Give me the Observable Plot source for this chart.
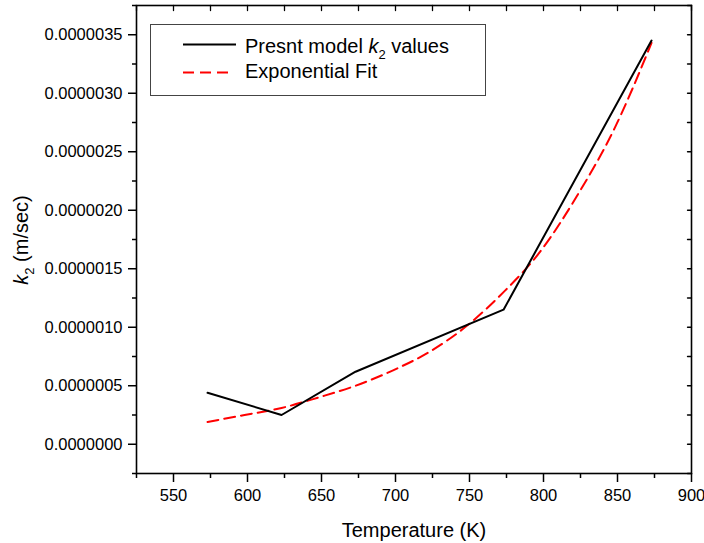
<!DOCTYPE html>
<html>
<head>
<meta charset="utf-8">
<script src="https://cdn.jsdelivr.net/npm/d3@7"></script>
<script src="https://cdn.jsdelivr.net/npm/@observablehq/plot@0.6"></script>
<style>
  html, body { margin: 0; padding: 0; background: #fff; }
  #chart { width: 704px; height: 543px; }
</style>
</head>
<body>
<div id="chart"></div>
<script>
// Present model k2 values (black solid line)
const modelT  = [573, 623, 673, 773, 873];
const modelK2 = [0.44e-6, 0.25e-6, 0.62e-6, 1.15e-6, 3.45e-6];

// Exponential fit (red dashed)
const fitT  = [573, 598, 623, 648, 673, 698, 723, 748, 773, 798, 823, 848, 873];
const fitK2 = [0.19e-6, 0.25e-6, 0.31e-6, 0.40e-6, 0.50e-6, 0.63e-6, 0.79e-6, 1.01e-6, 1.30e-6, 1.65e-6, 2.13e-6, 2.70e-6, 3.43e-6];

// Axis ticks
const xMajorTicks = [550, 600, 650, 700, 750, 800, 850, 900];
const xMinorTicks = [525, 575, 625, 675, 725, 775, 825, 875];
const yMajorTicks = [0, 0.5e-6, 1.0e-6, 1.5e-6, 2.0e-6, 2.5e-6, 3.0e-6, 3.5e-6];
const yMinorTicks = [-0.25e-6, 0.25e-6, 0.75e-6, 1.25e-6, 1.75e-6, 2.25e-6, 2.75e-6, 3.25e-6, 3.75e-6];

const xLabel = "Temperature (K)";
const legendLabels = ["Presnt model ", "k", "2", " values", "Exponential Fit"];

const model = modelT.map((t, i) => ({T: t, k2: modelK2[i]}));
const fit = fitT.map((t, i) => ({T: t, k2: fitK2[i]}));

const tickShape = { draw(ctx, l) { ctx.moveTo(0, 0); ctx.lineTo(0, -l); } };
const fmtY = d3.format(".7f");

const plot = Plot.plot({
  width: 704,
  height: 543,
  marginLeft: 136,
  marginRight: 13,
  marginTop: 5,
  marginBottom: 70,
  style: { fontFamily: "'Liberation Sans', Arial, Helvetica, sans-serif", fontSize: "16.5px", color: "#000", background: "#fff" },
  x: { domain: [525, 900] },
  y: { domain: [-0.25e-6, 3.75e-6] },
  marks: [
    Plot.axisX({ ticks: xMajorTicks, tickSize: 9, tickPadding: 7, tickFormat: d => String(d), label: null, strokeWidth: 1.5, fontSize: 16.5 }),
    Plot.axisX({ ticks: xMinorTicks, tickSize: 5, tickFormat: () => "", label: null, strokeWidth: 1.5 }),
    Plot.axisY({ ticks: yMajorTicks, tickSize: 8, tickPadding: 6, tickFormat: fmtY, label: null, strokeWidth: 1.5, fontSize: 16.5 }),
    Plot.axisY({ ticks: yMinorTicks, tickSize: 4, tickFormat: () => "", label: null, strokeWidth: 1.5 }),
    Plot.vector(xMajorTicks.concat(xMinorTicks), { x: d => d, frameAnchor: "top", length: 5, rotate: 180, anchor: "start", shape: tickShape, stroke: "#000", strokeWidth: 1.3 }),
    Plot.vector(yMajorTicks.concat(yMinorTicks), { y: d => d, frameAnchor: "right", length: 4, rotate: -90, anchor: "start", shape: tickShape, stroke: "#000", strokeWidth: 1.3 }),
    Plot.frame({ stroke: "#000", strokeWidth: 1.6 }),
    Plot.line(fit, { x: "T", y: "k2", stroke: "#ff0000", strokeWidth: 2, strokeDasharray: "11,6", curve: "monotone-x" }),
    Plot.line(model, { x: "T", y: "k2", stroke: "#000", strokeWidth: 2 })
  ]
});

document.getElementById("chart").appendChild(plot);

// Titles and legend (non-data decorations)
const svg = d3.select(plot);
const font = "'Liberation Sans', Arial, Helvetica, sans-serif";

svg.append("text")
  .attr("x", 414).attr("y", 536.5)
  .attr("text-anchor", "middle")
  .attr("font-family", font).attr("font-size", 20).attr("fill", "#000")
  .text(xLabel);

const yl = svg.append("text")
  .attr("transform", "translate(28,240) rotate(-90)")
  .attr("text-anchor", "middle")
  .attr("font-family", font).attr("font-size", 20).attr("fill", "#000");
yl.append("tspan").attr("font-style", "italic").text("k");
yl.append("tspan").attr("font-size", 13).attr("dy", 6).text("2");
yl.append("tspan").attr("dy", -6).text(" (m/sec)");

const lg = svg.append("g").attr("text-anchor", "start");
lg.append("rect")
  .attr("x", 150.5).attr("y", 24.5).attr("width", 335).attr("height", 71)
  .attr("fill", "#fff").attr("stroke", "#444").attr("stroke-width", 1);
lg.append("line").attr("x1", 183).attr("x2", 236).attr("y1", 44.5).attr("y2", 44.5)
  .attr("stroke", "#000").attr("stroke-width", 2);
lg.append("line").attr("x1", 183).attr("x2", 232).attr("y1", 72.5).attr("y2", 72.5)
  .attr("stroke", "#ff0000").attr("stroke-width", 2).attr("stroke-dasharray", "11,6");
const t1 = lg.append("text").attr("x", 245).attr("y", 53.3).attr("text-anchor", "start")
  .attr("font-family", font).attr("font-size", 20).attr("fill", "#000");
t1.append("tspan").text(legendLabels[0]);
t1.append("tspan").attr("font-style", "italic").text(legendLabels[1]);
t1.append("tspan").attr("font-size", 13).attr("dy", 6).text(legendLabels[2]);
t1.append("tspan").attr("dy", -6).text(legendLabels[3]);
lg.append("text").attr("x", 245).attr("y", 78.3).attr("text-anchor", "start")
  .attr("font-family", font).attr("font-size", 20).attr("fill", "#000")
  .text(legendLabels[4]);
</script>
</body>
</html>
